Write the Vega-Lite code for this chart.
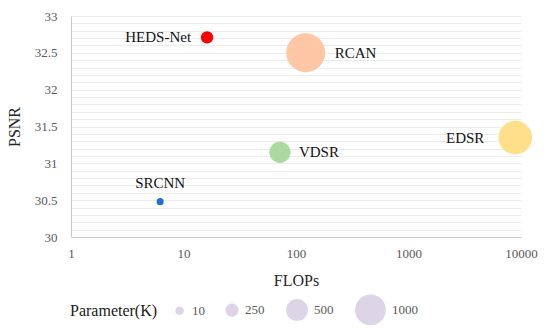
{
 "$schema": "https://vega.github.io/schema/vega-lite/v6.json",
 "width": 450, "height": 221,
 "autosize": {"type": "none"},
 "padding": {"left": 71, "top": 16, "right": 29, "bottom": 99},
 "background": "white",
 "config": {"view": {"stroke": null}, "font": "Liberation Serif",
   "text": {"font": "Liberation Serif"},
   "axis": {"labelFont": "Liberation Serif", "titleFont": "Liberation Serif", "labelColor": "#595959", "labelFontSize": 13, "titleFontSize": 16, "titleFontWeight": "normal", "titleColor": "#262626", "domainColor": "#c8c8c8", "ticks": false},
   "legend": {"labelFont": "Liberation Serif", "titleFont": "Liberation Serif"}},
 "data": {"values": [
  {"model": "HEDS-Net", "flops": 16.2, "psnr": 32.71, "params": 269},
  {"model": "SRCNN", "flops": 6.2, "psnr": 30.48, "params": 10},
  {"model": "VDSR", "flops": 72, "psnr": 31.15, "params": 542},
  {"model": "RCAN", "flops": 122, "psnr": 32.5, "params": 1756},
  {"model": "EDSR", "flops": 8900, "psnr": 31.35, "params": 1317}
 ]},
 "encoding": {
  "x": {"field": "flops", "type": "quantitative", "title": "FLOPs",
    "scale": {"type": "log", "domain": [1, 10000]},
    "axis": {"values": [1, 10, 100, 1000, 10000], "format": "d", "grid": false, "labelPadding": 10, "titlePadding": 12, "labelFlush": false}},
  "y": {"field": "psnr", "type": "quantitative", "title": "PSNR",
    "scale": {"domain": [30, 33], "zero": false, "nice": false},
    "axis": {"values": [30, 30.1, 30.2, 30.3, 30.4, 30.5, 30.6, 30.7, 30.8, 30.9, 31, 31.1, 31.2, 31.3, 31.4, 31.5, 31.6, 31.7, 31.8, 31.9, 32, 32.1, 32.2, 32.3, 32.4, 32.5, 32.6, 32.7, 32.8, 32.9, 33],
      "format": ".1~f", "labelExpr": "abs(datum.value*2 - round(datum.value*2)) < 0.001 ? datum.label : ''",
      "gridColor": "#ececec", "gridWidth": 1, "labelPadding": 14, "titlePadding": 12, "labelFlush": false}}
 },
 "layer": [
  {"mark": {"type": "circle", "opacity": 1},
   "encoding": {
    "size": {"field": "params", "type": "quantitative", "title": "Parameter(K)",
      "scale": {"domain": [10, 250, 500, 1000], "range": [50, 133, 415, 855], "zero": false},
      "legend": {"values": [10, 250, 500, 1000], "format": "d", "orient": "none", "legendX": -1, "legendY": 278, "direction": "horizontal", "titleOrient": "left", "titleFontSize": 16, "titleFontWeight": "normal", "titleColor": "#1a1a1a", "titlePadding": 15, "labelFontSize": 13, "labelColor": "#595959", "symbolFillColor": "#ddd5e7", "symbolStrokeColor": "#ddd5e7", "symbolOpacity": 1, "symbolType": "circle", "columnPadding": 18, "labelOffset": 6}},
    "color": {"field": "model", "type": "nominal", "legend": null,
      "scale": {"domain": ["HEDS-Net", "SRCNN", "VDSR", "RCAN", "EDSR"], "range": ["#ff0000", "#1f6fd0", "#a9dba0", "#ffc7a6", "#ffe08a"]}}
   }},
  {"transform": [{"filter": "datum.model == 'HEDS-Net'"}],
   "mark": {"type": "text", "align": "right", "baseline": "middle", "dx": -16, "fontSize": 15, "color": "#111", "font": "Liberation Serif"},
   "encoding": {"text": {"field": "model"}}},
  {"transform": [{"filter": "datum.model == 'SRCNN'"}],
   "mark": {"type": "text", "align": "center", "baseline": "middle", "dy": -19, "fontSize": 15, "color": "#111", "font": "Liberation Serif"},
   "encoding": {"text": {"field": "model"}}},
  {"transform": [{"filter": "datum.model == 'VDSR'"}],
   "mark": {"type": "text", "align": "left", "baseline": "middle", "dx": 19, "fontSize": 15, "color": "#111", "font": "Liberation Serif"},
   "encoding": {"text": {"field": "model"}}},
  {"transform": [{"filter": "datum.model == 'RCAN'"}],
   "mark": {"type": "text", "align": "left", "baseline": "middle", "dx": 29, "fontSize": 15, "color": "#111", "font": "Liberation Serif"},
   "encoding": {"text": {"field": "model"}}},
  {"transform": [{"filter": "datum.model == 'EDSR'"}],
   "mark": {"type": "text", "align": "right", "baseline": "middle", "dx": -31, "fontSize": 15, "color": "#111", "font": "Liberation Serif"},
   "encoding": {"text": {"field": "model"}}}
 ]
}
